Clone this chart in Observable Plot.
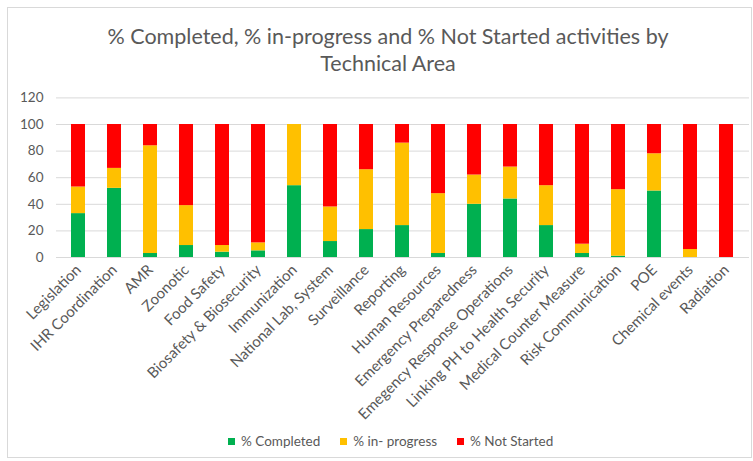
<!DOCTYPE html>
<html>
<head>
<meta charset="utf-8">
<script src="https://cdn.jsdelivr.net/npm/d3@7"></script>
<script src="https://cdn.jsdelivr.net/npm/@observablehq/plot@0.6"></script>
<style>
  html, body { margin: 0; padding: 0; background: #fff; }
  #wrap { position: relative; width: 753px; height: 461px; font-family: Lato, "Open Sans", sans-serif; color: #595959; }
  #frame { position: absolute; left: 7px; top: 7px; width: 745px; height: 451px; border: 1px solid #d9d9d9; box-sizing: border-box; }
  #title { position: absolute; left: 0; width: 776px; top: 23px; text-align: center; font-size: 21.5px; line-height: 27px; color: #595959; }
  #chart { position: absolute; left: 0; top: 85px; }
  #legend { position: absolute; left: 228px; top: 432px; display: flex; font-size: 13.5px; line-height: 18px; color: #595959; white-space: nowrap; }
  #legend .item { margin-right: 20px; }
  #legend span.sw { display: inline-block; width: 7px; height: 7px; margin-right: 6px; vertical-align: 1px; }
</style>
</head>
<body>
<div id="wrap">
  <div id="frame"></div>
  <div id="title">% Completed, % in-progress and % Not Started activities by<br>Technical Area</div>
  <div id="chart"></div>
  <div id="legend"></div>
</div>
<script>
const categories = ["Legislation", "IHR Coordination", "AMR", "Zoonotic", "Food Safety",
  "Biosafety & Biosecurity", "Immunization", "National Lab, System", "Surveillance", "Reporting",
  "Human Resources", "Emergency Preparedness", "Emegency Response Operations",
  "Linking PH to Health Security", "Medical Counter Measure", "Risk Communication", "POE",
  "Chemical events", "Radiation"];
const completed  = [33, 52, 3, 9, 4, 5, 54, 12, 21, 24, 3, 40, 44, 24, 3, 1, 50, 0, 0];
const inProgress = [20, 15, 81, 30, 5, 6, 46, 26, 45, 62, 45, 22, 24, 30, 7, 50, 28, 6, 0];
const notStarted = [47, 33, 16, 61, 91, 89, 0, 62, 34, 14, 52, 38, 32, 46, 90, 49, 22, 94, 100];
const seriesNames = ["% Completed", "% in- progress", "% Not Started"];
const seriesColors = ["#00B050", "#FFC000", "#FF0000"];
const yTicks = [0, 20, 40, 60, 80, 100, 120];

const seriesValues = [completed, inProgress, notStarted];
const data = [];
seriesNames.forEach((s, si) => {
  categories.forEach((c, ci) => data.push({category: c, series: s, value: seriesValues[si][ci]}));
});

const chart = Plot.plot({
  width: 753,
  height: 340,
  marginLeft: 56,
  marginRight: 4,
  marginTop: 12.4,
  marginBottom: 168,
  style: { fontFamily: "Lato, 'Open Sans', sans-serif", fontSize: "13.5px", color: "#595959", background: "transparent" },
  x: { domain: categories, paddingInner: 0.6, paddingOuter: 0.3, label: null },
  y: { domain: [0, 120], label: null },
  color: { domain: seriesNames, range: seriesColors },
  marks: [
    Plot.gridY(yTicks, { stroke: "#d9d9d9", strokeOpacity: 1, strokeWidth: 1 }),
    Plot.axisY({ ticks: yTicks, tickSize: 0, tickPadding: 13, label: null, fontSize: 13.5 }),
    Plot.barY(data, Plot.stackY({ x: "category", y: "value", fill: "series", order: seriesNames })),
    Plot.axisX({ tickSize: 0, tickPadding: 10, tickRotate: -45, label: null, fontSize: 15 })
  ]
});
document.getElementById("chart").appendChild(chart);

const legend = document.getElementById("legend");
seriesNames.forEach((s, i) => {
  const item = document.createElement("div");
  item.className = "item";
  item.innerHTML = `<span class="sw" style="background:${seriesColors[i]}"></span>${s}`;
  legend.appendChild(item);
});
</script>
</body>
</html>
